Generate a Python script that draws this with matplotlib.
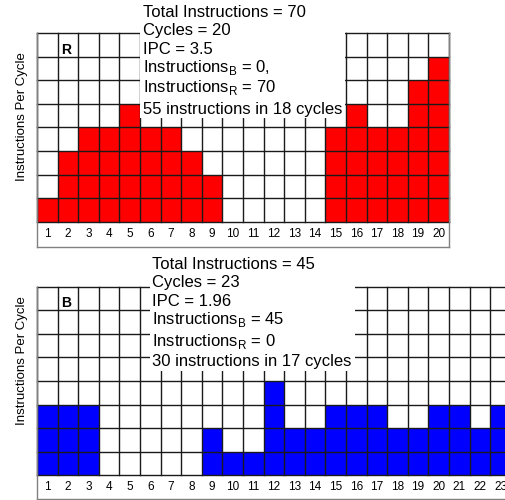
import matplotlib
matplotlib.use("Agg")
import matplotlib.pyplot as plt
from matplotlib.patches import Rectangle
import numpy as np

plt.rcParams['font.family'] = ['Liberation Sans', 'DejaVu Sans']
plt.rcParams['mathtext.fontset'] = 'custom'
plt.rcParams['mathtext.rm'] = 'Liberation Sans'

# data
red_ipc = [1, 3, 4, 4, 5, 4, 4, 3, 2, 0, 0, 0, 0, 0, 4, 5, 4, 4, 6, 7]
blue_ipc = [3, 3, 3, 0, 0, 0, 0, 0, 2, 1, 1, 4, 2, 2, 3, 3, 3, 2, 2, 3, 3, 2, 3]
n_rows = 8

red_notes = ["Total Instructions = 70", "Cycles = 20", "IPC = 3.5",
             r"Instructions$_\mathregular{B}$ = 0,",
             r"Instructions$_\mathregular{R}$ = 70",
             "55 instructions in 18 cycles"]
blue_notes = ["Total Instructions = 45", "Cycles = 23", "IPC = 1.96",
              r"Instructions$_\mathregular{B}$ = 45",
              r"Instructions$_\mathregular{R}$ = 0",
              "30 instructions in 17 cycles"]

fig = plt.figure(figsize=(5.06, 5.0), dpi=100)

col_w = 20.6 / 506   # one column in figure fraction
grid_c = '#1a1a1a'
frame_c = '#808080'


def panel(ax, vals, color, tag, notes, note_x, note_y, box_x0, box_x1, strip):
    n = len(vals)
    x = np.arange(n)
    ax.bar(x, vals, width=1.0, align='edge', color=color, zorder=1)
    for r in range(n_rows + 1):
        ax.plot([0, n], [r, r], color=grid_c, lw=1.0, zorder=2, clip_on=False)
    for c in range(n + 1):
        ax.plot([c, c], [0, n_rows], color=grid_c, lw=1.0, zorder=2, clip_on=False)
    ax.set_xlim(0, n)
    ax.set_ylim(-strip, n_rows)
    for s in ['left', 'right', 'bottom']:
        ax.spines[s].set_color(frame_c)
        ax.spines[s].set_linewidth(1.0)
    ax.spines['top'].set_visible(False)
    ax.set_xticks([])
    ax.set_yticks([])
    for i in range(n):
        ax.text(i + 0.5, -strip / 2, str(i + 1), ha='center', va='center',
                fontsize=8.5)
    # white block behind the notes
    ax.add_patch(Rectangle((box_x0, 4.41), box_x1 - box_x0, 5.15,
                           facecolor='white', edgecolor='none', zorder=3,
                           clip_on=False))
    for t, y in zip(notes, note_y):
        ax.text(note_x, y, t, fontsize=12, va='baseline', ha='left',
                zorder=4, clip_on=False)
    ax.text(1.15, 7.12, tag, fontsize=10, fontweight='bold', va='baseline',
            zorder=4)


ax1 = fig.add_axes([37 / 506, (500 - 247) / 500, 20 * col_w, 214 / 500])
panel(ax1, red_ipc, '#ff0000', 'R', red_notes, 5.15,
      [8.69, 7.92, 7.12, 6.36, 5.51, 4.58], 5.0, 14.95, 1.06)

ax2 = fig.add_axes([37 / 506, 1 / 500, 23 * col_w, 212.4 / 500])
panel(ax2, blue_ipc, '#0000ff', 'B', blue_notes, 5.58,
      [8.73, 7.97, 7.16, 6.40, 5.47, 4.62], 5.49, 15.44, 1.0)

fig.text(22 / 506, 1 - 117 / 500, 'Instructions Per Cycle', rotation=90,
         ha='center', va='center', fontsize=9.5)
fig.text(22 / 506, 1 - 361 / 500, 'Instructions Per Cycle', rotation=90,
         ha='center', va='center', fontsize=9.5)

fig.savefig('out.png', dpi=100)
